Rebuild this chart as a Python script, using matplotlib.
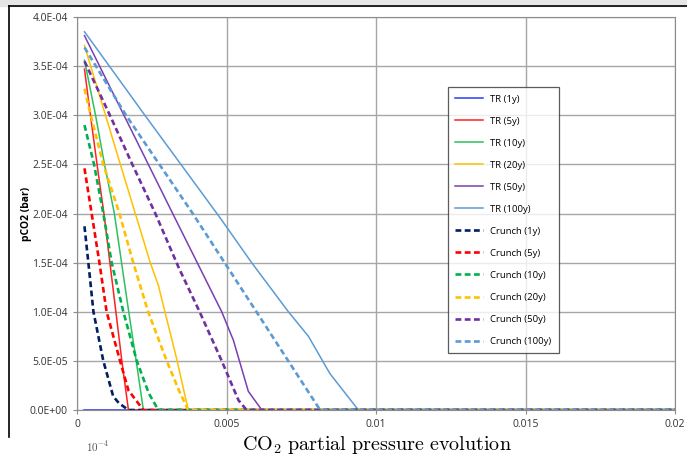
import numpy as np
import matplotlib.pyplot as plt
from matplotlib.lines import Line2D

plt.rcParams['mathtext.fontset'] = 'cm'

# distance (1e-3 units) and pCO2 (1e-4 bar)
tr1_x = [0.25, 20]
tr1_y = [0, 0]
tr5_x = [0.25, 0.45, 0.67, 0.90, 1.10, 1.30, 1.50, 1.72, 20]
tr5_y = [3.47, 3.0, 2.5, 2.0, 1.5, 1.0, 0.5, 0, 0]
tr10_x = [0.25, 0.62, 0.92, 1.25, 1.49, 1.73, 1.98, 2.22, 20]
tr10_y = [3.56, 3.0, 2.5, 2.0, 1.5, 1.0, 0.5, 0, 0]
tr20_x = [0.25, 1.45, 1.95, 2.45, 2.72, 2.94, 3.35, 3.72, 20]
tr20_y = [3.71, 2.5, 2.0, 1.5, 1.27, 1.0, 0.5, 0, 0]
tr50_x = [0.25, 3.2, 4.84, 5.23, 5.73, 6.18, 20]
tr50_y = [3.81, 2.0, 1.0, 0.71, 0.19, 0, 0]
tr100_x = [0.25, 2.27, 4.80, 5.84, 7.07, 7.74, 8.46, 9.41, 20]
tr100_y = [3.85, 3.0, 1.95, 1.5, 1.0, 0.75, 0.37, 0, 0]

cr1_x = [0.25, 0.38, 0.55, 0.88, 1.21, 1.40, 1.72, 20]
cr1_y = [1.87, 1.5, 1.0, 0.5, 0.14, 0.07, 0, 0]
cr5_x = [0.25, 0.49, 0.75, 0.99, 1.44, 1.72, 2.22, 20]
cr5_y = [2.46, 2.0, 1.5, 1.0, 0.5, 0.2, 0, 0]
cr10_x = [0.25, 0.57, 0.88, 1.16, 1.55, 2.0, 2.4, 2.72, 20]
cr10_y = [2.90, 2.5, 2.0, 1.5, 1.0, 0.5, 0.17, 0, 0]
cr20_x = [0.25, 0.46, 0.88, 1.42, 1.88, 2.38, 3.0, 3.45, 3.72, 20]
cr20_y = [3.27, 3.0, 2.5, 2.0, 1.5, 1.0, 0.5, 0.17, 0, 0]
cr50_x = [0.25, 1.1, 1.85, 2.62, 3.40, 4.1, 4.84, 5.4, 5.67, 20]
cr50_y = [3.55, 3.0, 2.5, 2.0, 1.45, 1.0, 0.5, 0.1, 0, 0]
cr100_x = [0.25, 1.64, 3.87, 6.0, 8.13, 20]
cr100_y = [3.69, 3.0, 2.0, 1.0, 0, 0]

tr = [("TR (1y)", tr1_x, tr1_y, "#2B3BF5"),
      ("TR (5y)", tr5_x, tr5_y, "#FF2020"),
      ("TR (10y)", tr10_x, tr10_y, "#2EC060"),
      ("TR (20y)", tr20_x, tr20_y, "#FFC000"),
      ("TR (50y)", tr50_x, tr50_y, "#7A3FB0"),
      ("TR (100y)", tr100_x, tr100_y, "#5B9BD5")]
crunch = [("Crunch (1y)", cr1_x, cr1_y, "#002060"),
          ("Crunch (5y)", cr5_x, cr5_y, "#FF0000"),
          ("Crunch (10y)", cr10_x, cr10_y, "#00B050"),
          ("Crunch (20y)", cr20_x, cr20_y, "#FFC000"),
          ("Crunch (50y)", cr50_x, cr50_y, "#7030A0"),
          ("Crunch (100y)", cr100_x, cr100_y, "#5B9BD5")]

fig = plt.figure(figsize=(6.87, 4.55), dpi=100)
# chart frame (left + top) and grey strip above
fig.patches.append(plt.Rectangle((0, 0.987), 1, 0.013, transform=fig.transFigure,
                                 color="#e6e6e6", zorder=0))
fig.lines.append(Line2D([9/687, 9/687], [1-437/455, 1-6/455], transform=fig.transFigure,
                        color="black", lw=1.2))
fig.lines.append(Line2D([9/687, 1], [1-6/455, 1-6/455], transform=fig.transFigure,
                        color="black", lw=1.2))

ax = fig.add_axes([77/687, 45/455, 598/687, 393/455])

for name, x, y, c in tr:
    ax.plot(np.array(x) * 1e-3, np.array(y) * 1e-4, color=c, lw=1.1, label=name)
for name, x, y, c in crunch:
    ax.plot(np.array(x) * 1e-3, np.array(y) * 1e-4, color=c, lw=1.9,
            dashes=(2.2, 1.3), label=name)

ax.set_xlim(0, 0.02)
ax.set_ylim(0, 4e-4)
ax.set_xticks([0, 0.005, 0.01, 0.015, 0.02])
ax.set_xticklabels(["0", "0.005", "0.01", "0.015", "0.02"])
yt = np.arange(0, 4.01e-4, 0.5e-4)
ax.set_yticks(yt)
ax.set_yticklabels(["%.1E" % v for v in yt])
ax.grid(True, color="#a6a6a6", lw=1.0)
ax.set_axisbelow(True)
for s in ax.spines.values():
    s.set_color("#8c8c8c")
ax.tick_params(labelsize=7.5, colors="#8c8c8c", labelcolor="#333333", length=3)
for lab in ax.get_xticklabels() + ax.get_yticklabels():
    lab.set_family("Open Sans")
ax.set_ylabel("pCO2 (bar)", fontsize=7.5, fontweight="bold", family="Open Sans")
ax.yaxis.set_label_coords(-0.076, 0.5)

leg = ax.legend(loc="upper left", bbox_to_anchor=(0.62, 0.822),
                prop={"family": "Open Sans", "size": 6.8}, frameon=True, fancybox=False,
                edgecolor="#333333", handlelength=2.9, labelspacing=1.38,
                borderpad=0.8, handletextpad=0.8, borderaxespad=0)
leg.get_frame().set_linewidth(0.9)

fig.text(0.548, 1 - 445/455, r"$\mathrm{CO_2\ partial\ pressure\ evolution}$",
         ha="center", va="center", fontsize=14.5)
fig.text(0.125, 0.002, r"$10^{-4}$", ha="left", va="bottom", fontsize=8, color="#555555")

fig.savefig("out.png", dpi=100)
